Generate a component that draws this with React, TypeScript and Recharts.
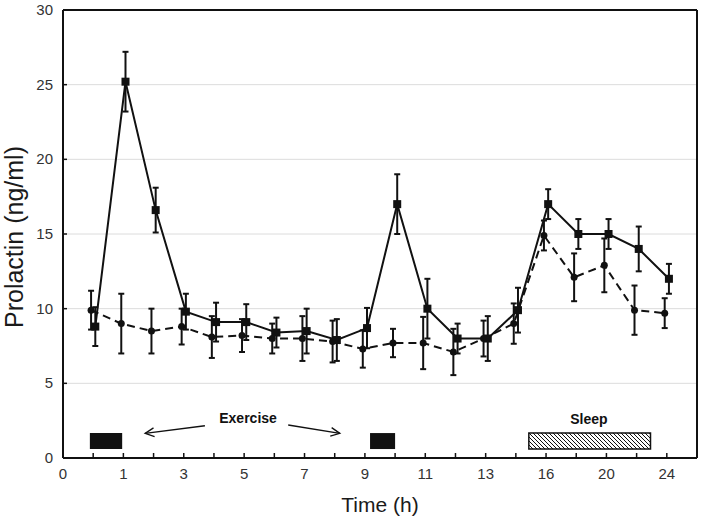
import React from 'react';
import {
  ComposedChart,
  Scatter,
  ErrorBar,
  XAxis,
  YAxis,
  CartesianGrid,
  ReferenceArea,
  ReferenceLine,
  ReferenceDot,
} from 'recharts';

// evenly spaced sampling slots, labelled only on every other slot
const slotLabels = ['0', '', '1', '', '3', '', '5', '', '7', '', '9', '', '11', '', '13', '', '16', '', '20', '', '24'];
const slots = [1, 2, 3, 4, 5, 6, 7, 8, 9, 10, 11, 12, 13, 14, 15, 16, 17, 18, 19, 20];
const yTicks = [0, 5, 10, 15, 20, 25, 30];

// solid line, squares
const solidMean = [8.8, 25.2, 16.6, 9.8, 9.1, 9.1, 8.4, 8.5, 7.9, 8.7, 17.0, 10.0, 8.0, 8.0, 9.9, 17.0, 15.0, 15.0, 14.0, 12.0];
const solidErr = [1.3, 2.0, 1.5, 1.2, 1.3, 1.2, 1.0, 1.5, 1.4, 1.35, 2.0, 2.0, 1.0, 1.5, 1.5, 1.0, 1.0, 1.0, 1.5, 1.0];
// dashed line, circles
const dashedMean = [9.9, 9.0, 8.5, 8.8, 8.1, 8.2, 8.0, 8.0, 7.8, 7.3, 7.7, 7.7, 7.1, 8.0, 9.0, 14.9, 12.1, 12.9, 9.9, 9.7];
const dashedErr = [1.3, 2.0, 1.5, 1.2, 1.4, 1.1, 1.0, 1.5, 1.4, 1.25, 0.95, 1.75, 1.55, 1.2, 1.35, 1.0, 1.6, 1.8, 1.65, 1.0];
// the two series are drawn slightly apart so the error bars don't overlap
const solidShift = 0.07;
const dashedShift = -0.07;

// event bars along the bottom (slot units, ng/ml units)
const exerciseBlocks = [[0.89, 1.96], [10.17, 11.0]];
const sleepBlock = [15.43, 19.46];
const blockBand = [0.6, 1.67];
const exerciseArrows = [
  [[4.7, 2.16], [2.72, 1.65]],
  [[7.46, 2.21], [9.17, 1.65]],
];

const solidData = slots.map((s, i) => ({ x: s + solidShift, y: solidMean[i], err: solidErr[i] }));
const dashedData = slots.map((s, i) => ({ x: s + dashedShift, y: dashedMean[i], err: dashedErr[i] }));

const INK = '#111';
const LABEL = '#333';
const FONT = '"Liberation Sans", Arial, sans-serif';

const BottomTick = (props: any) => {
  const { x, y, payload } = props;
  return (
    <g>
      <line x1={x} x2={x} y1={y} y2={y - 5} stroke={INK} strokeWidth={1.5} />
      <text x={x} y={y + 21} textAnchor="middle" fontSize={15} fill={LABEL} fontFamily={FONT}>
        {slotLabels[payload.value]}
      </text>
    </g>
  );
};

const TopTick = (props: any) => {
  const { x, y } = props;
  return <line x1={x} x2={x} y1={y} y2={y + 4} stroke={INK} strokeWidth={1.5} />;
};

const LeftTick = (props: any) => {
  const { x, y, payload } = props;
  const inner = payload.value > 0 && payload.value < 30;
  return (
    <g>
      {inner && <line x1={x} x2={x + 4} y1={y} y2={y} stroke={INK} strokeWidth={1.5} />}
      <text x={x - 10} y={y + 5} textAnchor="end" fontSize={15} fill={LABEL} fontFamily={FONT}>
        {payload.value}
      </text>
    </g>
  );
};

const RightTick = (props: any) => {
  const { x, y, payload } = props;
  if (payload.value <= 0 || payload.value >= 30) return <g />;
  return <line x1={x} x2={x - 4} y1={y} y2={y} stroke={INK} strokeWidth={1.5} />;
};

const Square = (props: any) => (
  <rect x={props.cx - 4} y={props.cy - 4} width={8} height={8} fill={INK} />
);

const Circle = (props: any) => <circle cx={props.cx} cy={props.cy} r={3.5} fill={INK} />;

const Arrow = (props: any) => {
  const { x1, y1, x2, y2 } = props;
  const ang = Math.atan2(y1 - y2, x1 - x2);
  const len = 10;
  const spread = 0.45;
  return (
    <g stroke={INK} strokeWidth={1.3} fill="none">
      <line x1={x1} y1={y1} x2={x2} y2={y2} />
      <polyline
        points={`${x2 + len * Math.cos(ang - spread)},${y2 + len * Math.sin(ang - spread)} ${x2},${y2} ${x2 + len * Math.cos(ang + spread)},${y2 + len * Math.sin(ang + spread)}`}
      />
    </g>
  );
};

const YTitle = (props: any) => {
  const { viewBox } = props;
  const cx = viewBox.x + 14;
  const cy = viewBox.y + viewBox.height / 2 + 3;
  return (
    <text
      x={cx}
      y={cy}
      transform={`rotate(-90, ${cx}, ${cy})`}
      textAnchor="middle"
      dominantBaseline="central"
      fontSize={25}
      fill="#1a1a1a"
      fontFamily={FONT}
    >
      Prolactin (ng/ml)
    </text>
  );
};

const XTitle = (props: any) => {
  const { viewBox } = props;
  return (
    <text
      x={viewBox.x + viewBox.width / 2}
      y={viewBox.y + 54}
      textAnchor="middle"
      fontSize={21}
      fill="#1a1a1a"
      fontFamily={FONT}
    >
      Time (h)
    </text>
  );
};

export default function App() {
  return (
    <div style={{ position: 'absolute', left: 0, top: 0, background: '#fff', fontFamily: FONT }}>
      <ComposedChart width={701} height={527} margin={{ top: 0, right: 0, bottom: 0, left: 0 }}>
        <defs>
          <pattern id="hatch" width="4" height="4" patternUnits="userSpaceOnUse">
            <rect width="4" height="4" fill="#fff" />
            <path d="M0,0 L4,4 M-1,3 L1,5 M3,-1 L5,1" stroke={INK} strokeWidth={1} />
          </pattern>
        </defs>
        <CartesianGrid vertical={false} stroke="#dcdcdc" />
        <XAxis
          dataKey="x"
          type="number"
          domain={[0, 21]}
          ticks={slotLabels.map((_, i) => i)}
          interval={0}
          height={69}
          tickSize={0}
          tickMargin={0}
          tick={<BottomTick />}
          axisLine={{ stroke: INK, strokeWidth: 2 }}
          label={<XTitle />}
        />
        <XAxis
          xAxisId="top"
          orientation="top"
          dataKey="x"
          type="number"
          domain={[0, 21]}
          ticks={slotLabels.map((_, i) => i)}
          interval={0}
          height={10}
          tickSize={0}
          tickMargin={0}
          tick={<TopTick />}
          axisLine={{ stroke: INK, strokeWidth: 2 }}
        />
        <YAxis
          type="number"
          domain={[0, 30]}
          ticks={yTicks}
          interval={0}
          width={63}
          tickSize={0}
          tickMargin={0}
          tick={<LeftTick />}
          axisLine={{ stroke: INK, strokeWidth: 2 }}
          label={<YTitle />}
        />
        <YAxis
          yAxisId="right"
          orientation="right"
          type="number"
          domain={[0, 30]}
          ticks={yTicks}
          interval={0}
          width={4}
          tickSize={0}
          tickMargin={0}
          tick={<RightTick />}
          axisLine={{ stroke: INK, strokeWidth: 2 }}
        />

        {exerciseBlocks.map(([a, b], i) => (
          <ReferenceArea
            key={`ex${i}`}
            x1={a}
            x2={b}
            y1={blockBand[0]}
            y2={blockBand[1]}
            fill={INK}
            fillOpacity={1}
            stroke="none"
          />
        ))}
        <ReferenceArea
          x1={sleepBlock[0]}
          x2={sleepBlock[1]}
          y1={blockBand[0]}
          y2={blockBand[1]}
          fill="url(#hatch)"
          fillOpacity={1}
          stroke={INK}
          strokeWidth={1.5}
        />
        {exerciseArrows.map(([from, to], i) => (
          <ReferenceLine
            key={`ar${i}`}
            segment={[
              { x: from[0], y: from[1] },
              { x: to[0], y: to[1] },
            ]}
            shape={<Arrow />}
          />
        ))}
        <ReferenceDot
          x={6.13}
          y={2.68}
          r={0}
          fill="none"
          stroke="none"
          label={{ value: 'Exercise', position: 'center', fontSize: 14, fontWeight: 'bold', fill: INK, fontFamily: FONT }}
        />
        <ReferenceDot
          x={17.42}
          y={2.6}
          r={0}
          fill="none"
          stroke="none"
          label={{ value: 'Sleep', position: 'center', fontSize: 14, fontWeight: 'bold', fill: INK, fontFamily: FONT }}
        />

        <Scatter
          data={dashedData}
          dataKey="y"
          shape={<Circle />}
          line={{ stroke: INK, strokeWidth: 2, strokeDasharray: '8 5' }}
          isAnimationActive={false}
        >
          <ErrorBar dataKey="err" direction="y" width={3} stroke={INK} strokeWidth={2} />
        </Scatter>
        <Scatter
          data={solidData}
          dataKey="y"
          shape={<Square />}
          line={{ stroke: INK, strokeWidth: 2 }}
          isAnimationActive={false}
        >
          <ErrorBar dataKey="err" direction="y" width={3} stroke={INK} strokeWidth={2} />
        </Scatter>
      </ComposedChart>
    </div>
  );
}
